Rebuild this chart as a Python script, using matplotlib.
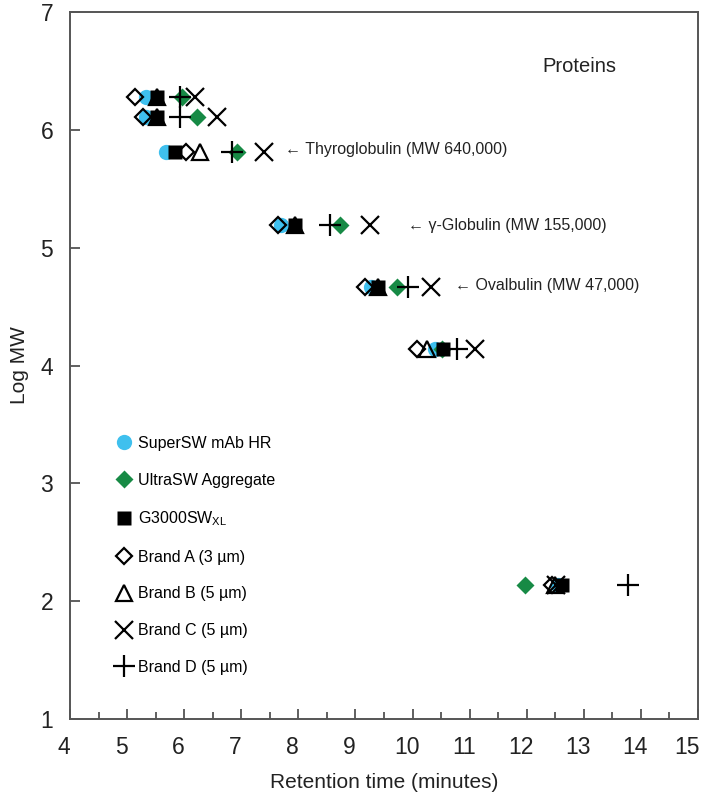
import numpy as np
import matplotlib
matplotlib.use("Agg")
import matplotlib.pyplot as plt
import matplotlib.transforms as mtransforms

plt.rcParams["font.family"] = ["Liberation Sans Narrow", "Liberation Sans", "DejaVu Sans"]

# log MW of each protein row
log_mw = [6.28, 6.11, 5.81, 5.19, 4.67, 4.14, 2.14]

# retention times (min) per column, same order as log_mw
rt_supersw = [5.34, 5.33, 5.69, 7.70, 9.28, 10.39, 12.55]
rt_ultrasw = [5.96, 6.22, 6.92, 8.73, 9.72, 10.51, 11.97]
rt_g3000 = [5.52, 5.52, 5.84, 7.94, 9.40, 10.54, 12.61]
rt_brand_a = [5.14, 5.28, 6.04, 7.64, 9.17, 10.07, 12.44]
rt_brand_b = [5.52, 5.52, 6.28, 7.94, 9.40, 10.25, 12.49]
rt_brand_c = [6.19, 6.57, 7.39, 9.25, 10.33, 11.09, 12.52]
rt_brand_d = [5.93, 5.93, 6.83, 8.55, 9.92, 10.77, 13.78]

labels = ["SuperSW mAb HR", "UltraSW Aggregate", r"G3000SW$_{\mathregular{XL}}$",
          "Brand A (3 µm)", "Brand B (5 µm)", "Brand C (5 µm)", "Brand D (5 µm)"]

annotations = ["← Thyroglobulin (MW 640,000)", "← γ-Globulin (MW 155,000)",
               "← Ovalbulin (MW 47,000)"]
annot_x = [7.77, 9.92, 10.74]
annot_y = [5.83, 5.19, 4.68]

CYAN = "#3FC0EE"
GREEN = "#178A45"

fig = plt.figure(figsize=(7.02, 7.92), dpi=100)
ax = fig.add_axes([0.0997, 0.092, 0.8946, 0.893])

styles = [
    dict(marker="o", ms=11, color=CYAN, mec="none"),
    dict(marker="D", ms=9.5, color=GREEN, mec="none"),
    dict(marker="s", ms=9.5, color="black", mec="none"),
    dict(marker="D", ms=8.5, mfc="none", mec="black", mew=1.6),
    dict(marker="^", ms=11, mfc="none", mec="black", mew=1.6),
    dict(marker="x", ms=13, mec="black", mew=1.6),
    dict(marker="+", ms=16, mec="black", mew=1.6),
]
series = [rt_supersw, rt_ultrasw, rt_g3000, rt_brand_a, rt_brand_b, rt_brand_c, rt_brand_d]

handles = []
for rt, st, lab in zip(series, styles, labels):
    h, = ax.plot(rt, log_mw, ls="none", label=lab, **st)
    handles.append(h)

for t, x, y in zip(annotations, annot_x, annot_y):
    ax.text(x, y, t, fontsize=11.5, va="center", ha="left", color="#222222")

ax.text(12.93, 6.54, "Proteins", fontsize=14.5, ha="center", va="center", color="#222222")

leg = ax.legend(handles=handles, loc="upper left", bbox_to_anchor=(0.073, 0.4005),
                frameon=False, fontsize=11.5, labelspacing=1.36, handlelength=1.0,
                handletextpad=0.4, borderpad=0, borderaxespad=0)

ax.set_xlim(4, 15)
ax.set_ylim(1, 7)
ax.set_xticks(np.arange(4, 16, 1))
ax.set_xticks(np.arange(4.5, 15, 1), minor=True)
ax.set_yticks(np.arange(1, 8, 1))
ax.tick_params(axis="both", which="major", direction="in", length=7, width=1.2,
               color="#444444", labelsize=16.5, pad=12, labelcolor="#222222")
ax.tick_params(axis="x", which="minor", direction="in", length=5, width=1.2, color="#444444")
ax.tick_params(axis="y", which="minor", length=0)
for s in ax.spines.values():
    s.set_color("#555555")
    s.set_linewidth(1.4)

# x tick labels sit a little left of their ticks in the original
shift = mtransforms.ScaledTranslation(-6 / 100, 0, fig.dpi_scale_trans)
last_shift = mtransforms.ScaledTranslation(-11 / 100, 0, fig.dpi_scale_trans)
xlabs = ax.get_xticklabels()
for i, lab in enumerate(xlabs):
    lab.set_transform(lab.get_transform() + (last_shift if i == len(xlabs) - 1 else shift))

ax.set_xlabel("Retention time (minutes)", fontsize=15, color="#222222", labelpad=10)
ax.set_ylabel("Log MW", fontsize=15, color="#222222", labelpad=8)

fig.savefig("out.png", dpi=100)
